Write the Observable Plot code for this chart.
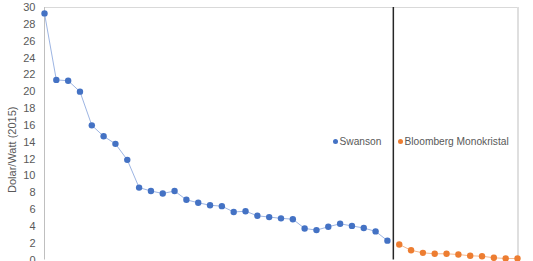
<!DOCTYPE html>
<html>
<head>
<meta charset="utf-8">
<script src="https://cdn.jsdelivr.net/npm/d3@7"></script>
<script src="https://cdn.jsdelivr.net/npm/@observablehq/plot@0.6"></script>
<style>
  html, body { margin: 0; padding: 0; background: #fff; }
  #wrap { position: relative; width: 533px; height: 261px; overflow: hidden; font-family: "Liberation Sans", Arial, sans-serif; }
  .leg { position: absolute; font-size: 10.2px; color: #595959; white-space: nowrap; line-height: 1; }
  .leg span.dot { display: inline-block; width: 5px; height: 5px; border-radius: 50%; margin-right: 1.5px; vertical-align: 1px; }
</style>
</head>
<body>
<div id="wrap"></div>
<script>
const swanson = [29.3, 21.4, 21.3, 20.0, 16.0, 14.7, 13.8, 11.9, 8.6, 8.2, 7.9, 8.2, 7.15, 6.8, 6.5, 6.4, 5.7, 5.8, 5.25, 5.1, 4.95, 4.85, 3.75, 3.55, 3.95, 4.3, 4.05, 3.8, 3.4, 2.3];
const bloomberg = [1.85, 1.15, 0.85, 0.74, 0.74, 0.65, 0.5, 0.45, 0.26, 0.18, 0.18];
const yTicks = d3.range(0, 31, 2);
const seriesNames = ["Swanson", "Bloomberg Monokristal"];
const colors = ["#4472C4", "#ED7D31"];
const lineColors = ["#9DB5E3", "#F5B98F"];

const sData = swanson.map((v, i) => ({i, v}));
const bData = bloomberg.map((v, i) => ({i: i + swanson.length, v}));
const splitAt = swanson.length - 0.5;

const chart = Plot.plot({
  width: 533,
  height: 261,
  marginLeft: 44,
  marginRight: 16,
  marginTop: 7,
  marginBottom: 1.5,
  style: {fontFamily: "'Liberation Sans', Arial, sans-serif", fontSize: "11px", color: "#595959", background: "#fff"},
  x: {domain: [0, swanson.length + bloomberg.length - 1], axis: null},
  y: {domain: [0, 30], ticks: yTicks, tickSize: 0, tickPadding: 9, label: null},
  marks: [
    Plot.ruleY([30], {stroke: "#d9d9d9"}),
    Plot.ruleX([0], {stroke: "#bfbfbf"}),
    Plot.ruleX([swanson.length + bloomberg.length - 1], {stroke: "#bfbfbf", dx: 0.5}),
    Plot.ruleX([splitAt], {stroke: "#262626", strokeWidth: 1.5}),
    Plot.line(sData, {x: "i", y: "v", stroke: lineColors[0], strokeWidth: 1}),
    Plot.line(bData, {x: "i", y: "v", stroke: lineColors[1], strokeWidth: 1}),
    Plot.dot(sData, {x: "i", y: "v", r: 3.2, fill: colors[0]}),
    Plot.dot(bData, {x: "i", y: "v", r: 3.2, fill: colors[1]}),
    Plot.text(["Dolar/Watt (2015)"], {frameAnchor: "left", textAnchor: "middle", dx: -32, dy: 16, rotate: -90, fontSize: 11, fill: "#595959"})
  ]
});
const wrap = document.getElementById("wrap");
wrap.appendChild(chart);

const legPos = [[333, 136.5], [398, 136.5]];
seriesNames.forEach((n, k) => {
  const d = document.createElement("div");
  d.className = "leg";
  d.style.left = legPos[k][0] + "px";
  d.style.top = legPos[k][1] + "px";
  d.innerHTML = `<span class="dot" style="background:${colors[k]}"></span>${n}`;
  wrap.appendChild(d);
});
</script>
</body>
</html>
